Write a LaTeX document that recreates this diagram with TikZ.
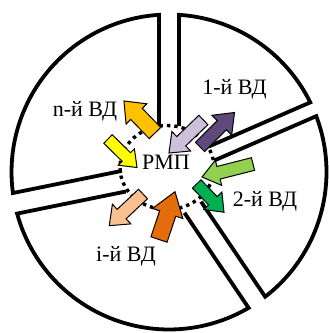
\documentclass[tikz,border=0pt]{standalone}
\usepackage{fontspec}
\setmainfont{Liberation Serif}
\usetikzlibrary{calc}
\definecolor{cgold}{HTML}{FFC000}
\definecolor{cyellow}{HTML}{FFFF00}
\definecolor{clav}{HTML}{CCC0DA}
\definecolor{cpurple}{HTML}{5F497A}
\definecolor{clgreen}{HTML}{92D050}
\definecolor{cgreen}{HTML}{00B050}
\definecolor{cpeach}{HTML}{FAC090}
\definecolor{corange}{HTML}{E46C0A}
\def\RR{157.5}
\tikzset{
  secline/.style={line width=3.8pt, line join=miter},
  arrline/.style={draw=black, line width=1pt, line join=miter},
  lbl/.style={font=\fontsize{22}{26}\selectfont, inner sep=0pt, anchor=base},
  dotring/.style={line width=3.4pt, dash pattern=on 3.4pt off 4pt}
}
% sector: a1, g1, d1, a2, g2, d2
\newcommand\sectr[6]{%
  \draw[secline] ($(C)+(#1:#3pt)+({#1+90}:#2pt)$)
    -- ($(C)+({#1+asin(#2/\RR)}:\RR pt)$)
    arc[start angle={#1+asin(#2/\RR)}, end angle={#4-asin(#5/\RR)}, radius=\RR pt]
    -- ($(C)+(#4:#6pt)+({#4-90}:#5pt)$);}
% block arrow: tail, angle, length, shaft w, head w, head length, colour
\newcommand\blockarr[7]{%
  \begin{scope}[shift={(#1)},rotate=#2]
    \filldraw[arrline, fill=#7] (0,{-#4/2}) -- ({#3-#6},{-#4/2}) -- ({#3-#6},{-#5/2})
      -- (#3,0) -- ({#3-#6},{#5/2}) -- ({#3-#6},{#4/2}) -- (0,{#4/2}) -- cycle;
  \end{scope}}
\begin{document}
\begin{tikzpicture}[x=1pt,y=1pt]
\path[use as bounding box, fill=white] (0,0) rectangle (329,333);
\coordinate (C) at (169,161);
% sectors
\sectr{23.5}{7.5}{46.5}{90}{10}{46}
\sectr{90}{10}{46}{191.5}{10.5}{46}
\sectr{191.5}{10.5}{46}{304}{10}{42.5}
\sectr{-56}{10}{42.5}{23.5}{7.5}{46.5}
% dotted ring
\draw[dotring] (167,165.5) ellipse [x radius=47, y radius=42];
% arrows
\blockarr{155,200}{134.1}{44.6}{16}{29}{18}{cgold}
\blockarr{108,194}{-44.5}{40.7}{12}{23}{15}{cyellow}
\blockarr{203.4,213}{223.8}{47.7}{13}{27}{17}{clav}
\blockarr{200,186}{45}{48.8}{13}{28}{18}{cpurple}
\blockarr{253,169}{194.3}{52.6}{13}{26}{17}{clgreen}
\blockarr{196.7,149}{-46}{39.3}{12}{25}{16}{cgreen}
\blockarr{143,139}{223.2}{46.3}{13}{27}{17}{cpeach}
\blockarr{159,93.5}{71.5}{50.4}{17}{32}{23}{corange}
% labels
\node[lbl] (rmp) at (166,163.5) {РМП};
\node[lbl] (ln) at (85,216) {n-й ВД};
\node[lbl] (l1) at (234.5,239) {1-й ВД};
\node[lbl] (l2) at (265,127) {2-й ВД};
\node[lbl] (li) at (126,71) {i-й ВД};
\end{tikzpicture}
\end{document}
